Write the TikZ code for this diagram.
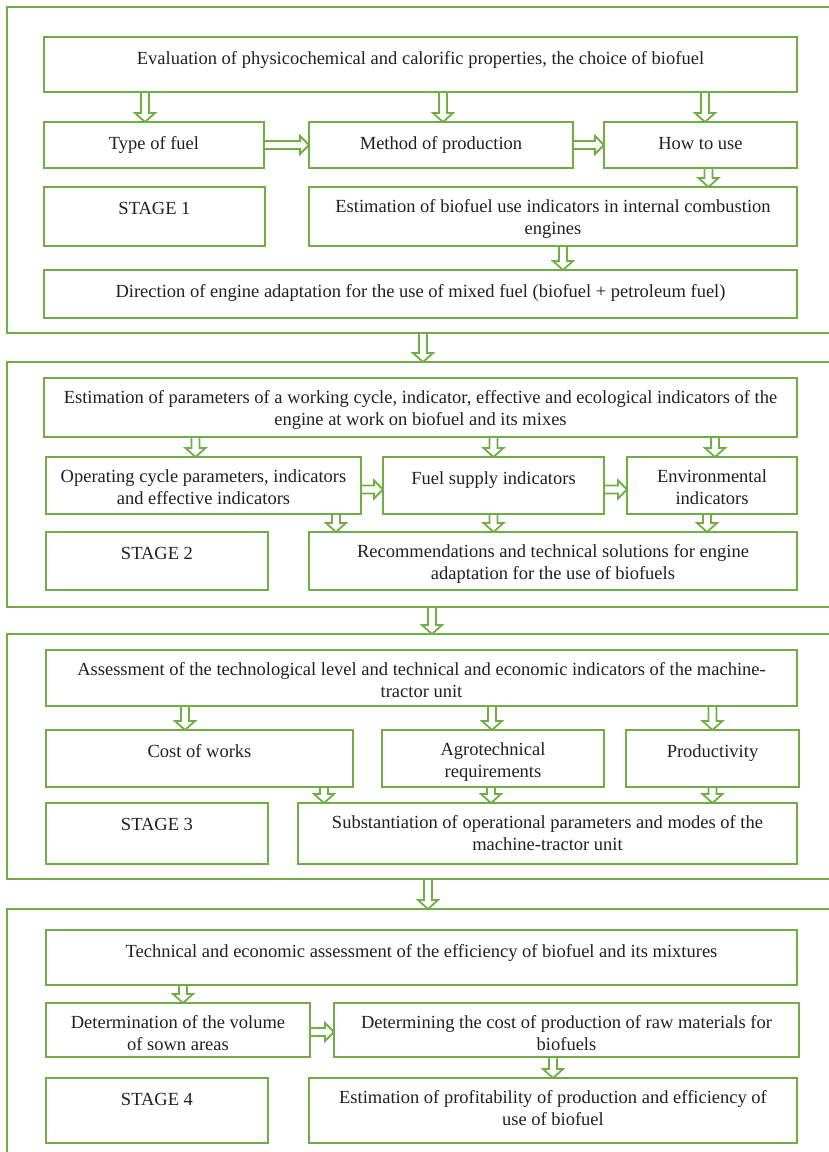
\documentclass[tikz,border=0pt]{standalone}
\usepackage{fontspec}
\setmainfont{Liberation Serif}
\usetikzlibrary{calc}
\definecolor{leafgreen}{HTML}{70AD47}
\definecolor{inkgray}{HTML}{231F20}
\tikzset{
  box/.style={draw=leafgreen, line width=1.8pt, anchor=north west, inner sep=0pt, outer sep=0pt},
  lbl/.style={anchor=north, inner sep=0pt, align=center, yshift=-12pt, text=inkgray,
    font=\fontsize{18.5}{22}\selectfont, execute at begin node={\rule{0pt}{15pt}}},
  darr/.style={draw=leafgreen, line width=1.8pt, to path={let \p1=(\tikztostart), \p2=(\tikztotarget) in
    (\x1-4pt,\y1) -- (\x1-4pt,\y2+9pt) -- (\x1-10pt,\y2+9pt) -- (\x1,\y2)
    -- (\x1+10pt,\y2+9pt) -- (\x1+4pt,\y2+9pt) -- (\x1+4pt,\y1)}},
  rarr/.style={draw=leafgreen, line width=1.8pt, to path={let \p1=(\tikztostart), \p2=(\tikztotarget) in
    (\x1,\y1+4pt) -- (\x2-9pt,\y1+4pt) -- (\x2-9pt,\y1+9pt) -- (\x2,\y1)
    -- (\x2-9pt,\y1-9pt) -- (\x2-9pt,\y1-4pt) -- (\x1,\y1-4pt)}}
}
\begin{document}
\begin{tikzpicture}[x=1pt, y=-1pt]
    \useasboundingbox (0,0) rectangle (829,1152) ;
    \clip (0,0) rectangle (829,1152) ;

    \node[box, minimum width=850, minimum height=326] (s1) at (7,7) {} ;
    \node[box, minimum width=753, minimum height=55, label={[lbl]north:{Evaluation of physicochemical and calorific properties, the choice of biofuel}}] (ev) at (44,37) {} ;
    \node[box, minimum width=220, minimum height=46, label={[lbl]north:{Type of fuel}}] (tf) at (44,122) {} ;
    \node[box, minimum width=264, minimum height=46, label={[lbl]north:{Method of production}}] (mp) at (309,122) {} ;
    \node[box, minimum width=193, minimum height=46, label={[lbl]north:{How to use}}] (hu) at (604,122) {} ;
    \node[box, minimum width=221, minimum height=59, label={[lbl]north:{STAGE 1}}] (st1) at (44,187) {} ;
    \node[box, minimum width=488, minimum height=59, label={[lbl]north:{Estimation of biofuel use indicators in internal combustion\\engines}}] (ei) at (309,187) {} ;
    \node[box, minimum width=753, minimum height=48, label={[lbl]north:{Direction of engine adaptation for the use of mixed fuel (biofuel + petroleum fuel)}}] (da) at (44,270) {} ;
    \draw[darr] ([xshift=-9pt]tf.north |- ev.south) to (tf.north) ;
    \draw[darr] ([xshift=2pt]mp.north |- ev.south) to (mp.north) ;
    \draw[darr] ([xshift=4.5pt]hu.north |- ev.south) to (hu.north) ;
    \draw[rarr] (tf.east) to (mp.west) ;
    \draw[rarr] (mp.east) to (hu.west) ;
    \draw[darr] ([xshift=8pt]hu.south) to (ei.north) ;
    \draw[darr] ([xshift=10pt]ei.south) to (da.north) ;

    \node[box, minimum width=850, minimum height=245] (s2) at (7,362) {} ;
    \node[box, minimum width=753, minimum height=59, label={[lbl]north:{Estimation of parameters of a working cycle, indicator, effective and ecological indicators of the\\engine at work on biofuel and its mixes}}] (ep) at (44,378) {} ;
    \node[box, minimum width=315, minimum height=57, label={[lbl]north:{Operating cycle parameters, indicators\\and effective indicators}}] (op) at (46,457) {} ;
    \node[box, minimum width=221, minimum height=57, label={[lbl]north:{Fuel supply indicators}}] (fs) at (383,457) {} ;
    \node[box, minimum width=170, minimum height=57, label={[lbl]north:{Environmental\\indicators}}] (en) at (627,457) {} ;
    \node[box, minimum width=222, minimum height=58, label={[lbl]north:{STAGE 2}}] (st2) at (46,532) {} ;
    \node[box, minimum width=488, minimum height=58, label={[lbl]north:{Recommendations and technical solutions for engine\\adaptation for the use of biofuels}}] (rc) at (309,532) {} ;
    \draw[darr] ([xshift=2.5pt]ep.north |- s1.south) to (s2.north) ;
    \draw[darr] ([xshift=-8pt]op.north |- ep.south) to (op.north) ;
    \draw[darr] (fs.north |- ep.south) to (fs.north) ;
    \draw[darr] ([xshift=3pt]en.north |- ep.south) to (en.north) ;
    \draw[rarr] ([yshift=-4pt]op.east) to (fs.west) ;
    \draw[rarr] ([yshift=-4pt]fs.east) to (en.west) ;
    \draw[darr] ([xshift=-25pt]op.south east) to (rc.north) ;
    \draw[darr] (fs.south) to (rc.north) ;
    \draw[darr] ([xshift=-5pt]en.south) to (rc.north) ;

    \node[box, minimum width=850, minimum height=245] (s3) at (7,634) {} ;
    \node[box, minimum width=751, minimum height=56, label={[lbl]north:{Assessment of the technological level and technical and economic indicators of the machine-\\tractor unit}}] (as) at (46,650) {} ;
    \node[box, minimum width=307, minimum height=57, label={[lbl]north:{Cost of works}}] (cw) at (46,730) {} ;
    \node[box, minimum width=222, minimum height=57, label={[lbl]north:{Agrotechnical\\requirements}}] (ag) at (382,730) {} ;
    \node[box, minimum width=173, minimum height=57, label={[lbl]north:{Productivity}}] (pr) at (626,730) {} ;
    \node[box, minimum width=222, minimum height=61, label={[lbl]north:{STAGE 3}}] (st3) at (46,803) {} ;
    \node[box, minimum width=499, minimum height=61, label={[lbl]north:{Substantiation of operational parameters and modes of the\\machine-tractor unit}}] (su) at (298,803) {} ;
    \draw[darr] ([xshift=10.5pt]as.north |- s2.south) to (s3.north) ;
    \draw[darr] ([xshift=-14.5pt]cw.north |- as.south) to (cw.north) ;
    \draw[darr] ([xshift=-1pt]ag.north |- as.south) to (ag.north) ;
    \draw[darr] (pr.north |- as.south) to (pr.north) ;
    \draw[darr] ([xshift=-29pt]cw.south east) to (su.north) ;
    \draw[darr] ([xshift=-2pt]ag.south) to (su.north) ;
    \draw[darr] (pr.south) to (su.north) ;

    \node[box, minimum width=850, minimum height=300] (s4) at (7,909) {} ;
    \node[box, minimum width=751, minimum height=55, label={[lbl]north:{Technical and economic assessment of the efficiency of biofuel and its mixtures}}] (te) at (46,930) {} ;
    \node[box, minimum width=264, minimum height=54, label={[lbl]north:{Determination of the volume\\of sown areas}}] (dv) at (46,1003) {} ;
    \node[box, minimum width=465, minimum height=54, label={[lbl]north:{Determining the cost of production of raw materials for\\biofuels}}] (dc) at (334,1003) {} ;
    \node[box, minimum width=222, minimum height=65, label={[lbl]north:{STAGE 4}}] (st4) at (46,1078) {} ;
    \node[box, minimum width=488, minimum height=65, label={[lbl]north:{Estimation of profitability of production and efficiency of\\use of biofuel}}] (pe) at (309,1078) {} ;
    \draw[darr] ([xshift=6.5pt]te.north |- s3.south) to (s4.north) ;
    \draw[darr] ([xshift=5pt]dv.north |- te.south) to (dv.north) ;
    \draw[rarr] ([yshift=-2pt]dv.east) to (dc.west) ;
    \draw[darr] ([xshift=-13.5pt]dc.south) to (pe.north) ;
\end{tikzpicture}
\end{document}
